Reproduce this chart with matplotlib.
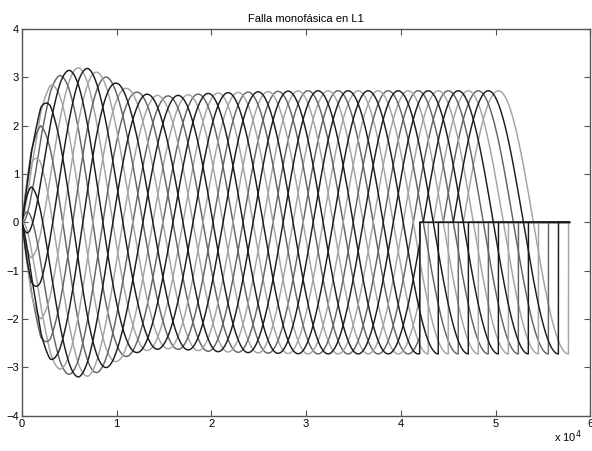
import numpy as np
import matplotlib
matplotlib.use("Agg")
import matplotlib.pyplot as plt

# amplitude envelope of the traces (x in units of 1e4)
ENV_X = [0.0, 0.05, 0.1, 0.2, 0.3, 0.4, 0.5, 0.6, 0.7, 0.8, 0.9, 1.0,
         1.1, 1.2, 1.35, 1.5, 1.7, 2.0, 2.5, 3.0, 6.0]
ENV_Y = [0.0, 0.8, 1.5, 2.4, 2.85, 3.05, 3.15, 3.2, 3.18, 3.1, 3.0, 2.88,
         2.78, 2.7, 2.64, 2.61, 2.63, 2.67, 2.7, 2.72, 2.72]

PERIOD = 1.48        # width of one full arc cycle
N_TRACES = 14        # arcs are spaced PERIOD / N_TRACES apart
LAST_PEAK = 5.03     # rightmost crest
FAULT_X = 4.2        # fault instant: negative half clipped to zero after this
END_X = 5.78         # end of record

X_TICKS = [0, 1, 2, 3, 4, 5, 6]
Y_TICKS = [-4, -3, -2, -1, 0, 1, 2, 3, 4]
SHADES = ["#a3a3a3", "#1c1c1c", "#646464"]

plt.rcParams["font.family"] = ["Liberation Sans", "DejaVu Sans"]

fig = plt.figure(figsize=(5.92, 4.51), dpi=100)
ax = fig.add_axes([0.037, 0.078, 0.96, 0.858])

x = np.linspace(0, END_X, 8000)
env = np.interp(x, ENV_X, ENV_Y)
step = PERIOD / N_TRACES
for k in range(N_TRACES):
    peak = LAST_PEAK - k * step
    phi = 2 * np.pi * (x - peak) / PERIOD
    y = env * np.cos(phi)
    ph = np.mod(phi, 2 * np.pi)
    y[(x > FAULT_X) & (ph > np.pi) & (ph < 1.5 * np.pi)] = 0
    y[x > peak + PERIOD / 2] = 0
    col = SHADES[k % 3]
    ax.plot(x, y, color=col, lw=1.05, zorder=3 if k % 3 == 1 else 2)

ax.set_xlim(0, 6)
ax.set_ylim(-4, 4)
ax.set_xticks(X_TICKS)
ax.set_yticks(Y_TICKS)
ax.tick_params(direction="in", top=True, right=True, length=4,
               labelsize=8, pad=2, color="#555555")
for s in ax.spines.values():
    s.set_color("#555555")
    s.set_linewidth(1.0)
ax.set_title("Falla monofásica en L1", fontsize=8, pad=5)
fig.text(0.935, 0.02, "x 10$^4$", fontsize=8)

fig.savefig("out.png", dpi=100)
